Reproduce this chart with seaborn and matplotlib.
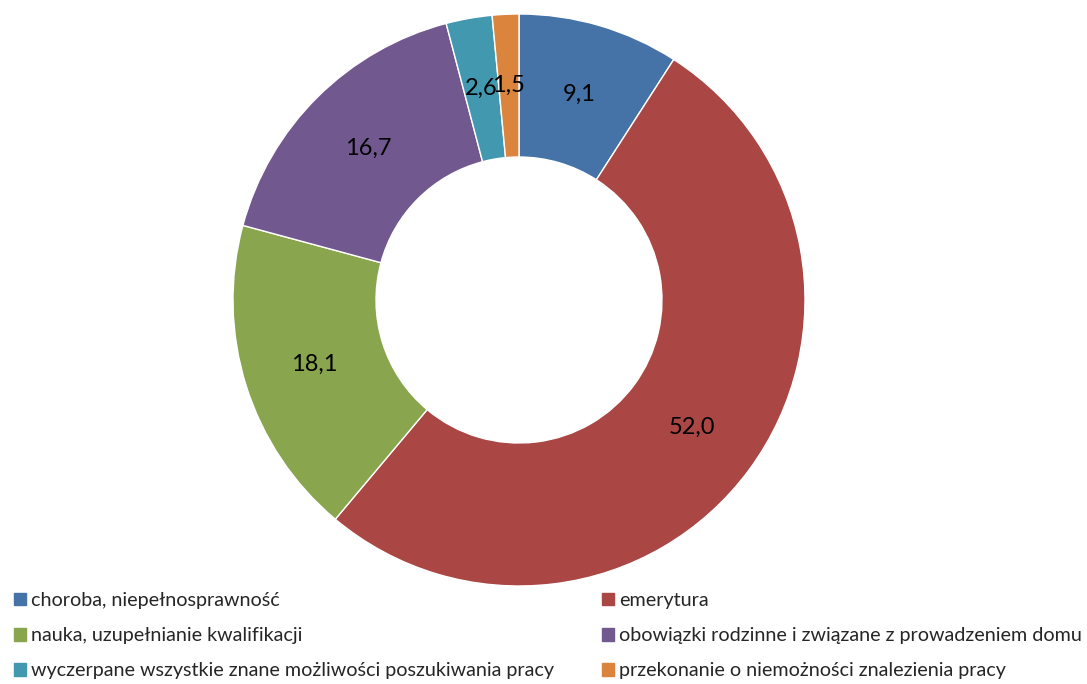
import matplotlib
matplotlib.use("Agg")
import matplotlib.pyplot as plt
import matplotlib.patches as mpatches
import numpy as np
import seaborn as sns

# Data
categories = [
    "choroba, niepełnosprawność",
    "emerytura",
    "nauka, uzupełnianie kwalifikacji",
    "obowiązki rodzinne i związane z prowadzeniem domu",
    "wyczerpane wszystkie znane możliwości poszukiwania pracy",
    "przekonanie o niemożności znalezienia pracy",
]
values = [9.1, 52.0, 18.1, 16.7, 2.6, 1.5]
labels = ["9,1", "52,0", "18,1", "16,7", "2,6", "1,5"]
colors = ["#4572A7", "#AA4643", "#89A54E", "#71588F", "#4198AF", "#DB843D"]

sns.set_style("white")
plt.rcParams["font.family"] = ["Lato", "DejaVu Sans"]

fig = plt.figure(figsize=(10.87, 6.84), dpi=100)
ax = fig.add_axes([233 / 1087, 98 / 684, 572 / 1087, 572 / 684])

wedges, _ = ax.pie(values, colors=colors, startangle=90, counterclock=False,
                   radius=1.0, wedgeprops=dict(width=0.5, edgecolor="white", linewidth=1))
# value labels in the middle of the ring
for w, lab in zip(wedges, labels):
    ang = np.deg2rad((w.theta1 + w.theta2) / 2)
    ax.text(0.75 * np.cos(ang), 0.75 * np.sin(ang), lab, ha="center", va="center",
            fontsize=17, color="black")
ax.set_xlim(-1, 1)
ax.set_ylim(-1, 1)
ax.set_aspect("equal")
ax.axis("off")

# Legend: row-wise order in two columns
order = [0, 2, 4, 1, 3, 5]
handles = [mpatches.Patch(color=colors[i]) for i in order]
names = [categories[i] for i in order]
fig.legend(handles, names, ncol=2, loc="upper left", bbox_to_anchor=(0.004, 0.149),
           frameon=False, fontsize=14.2, handlelength=0.62, handleheight=0.62,
           handletextpad=0.25, columnspacing=2.4, labelspacing=0.92, borderpad=0)

plt.savefig("out.png", dpi=100)
